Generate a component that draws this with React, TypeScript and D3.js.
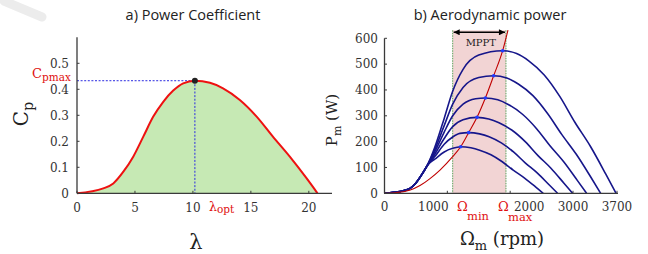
import React from 'react';
import * as d3 from 'd3';

// ---------- Panel a) Power coefficient ----------
const cpLambda = [0, 2.27, 3.13, 4.0, 4.85, 5.72, 6.58, 7.44, 8.3, 9.16, 10.17, 11.47, 12.6, 14.05, 15.5, 16.9, 18.36, 19.8, 20.75];
const cpValues = [0, 0.019, 0.038, 0.083, 0.141, 0.218, 0.295, 0.352, 0.395, 0.423, 0.433, 0.425, 0.404, 0.359, 0.295, 0.218, 0.141, 0.058, 0];
const cpTicks = [0, 0.1, 0.2, 0.3, 0.4, 0.5];
const cpTickLabels = ['0', '0.1', '0.2', '0.3', '0.4', '0.5'];
const lambdaTicks = [0, 5, 10, 15, 20];
const lambdaOpt = 10.17;
const cpMax = 0.433;

// ---------- Panel b) Aerodynamic power ----------
const omegaTicks = [0, 1000, 2000, 3000, 3700];
const omegaTickLabels = ['0', '1000', '2000', '3000', '3700'];
const powerTicks = [0, 100, 200, 300, 400, 500, 600];
const omegaMin = 1085;
const omegaMax = 1933;
const shadeTop = 631;

const mpptOmega = [0, 200, 400, 565, 724, 883, 1085, 1212, 1340, 1472, 1605, 1737, 1880, 1965];
const mpptPower = [0, 3, 12, 30, 57, 90, 142, 180, 235, 294, 369, 455, 552, 632];

const peakOmega = [1212, 1340, 1472, 1605, 1737, 1880];
const peakPower = [180, 235, 294, 369, 455, 552];

const windOmega1 = [0, 150, 300, 400, 500, 600, 700, 800, 950, 1085, 1212, 1374, 1514, 1694, 1874, 2048, 2229, 2408, 2526];
const windPower1 = [0, 4, 10, 18, 40, 75, 113, 132, 160, 174, 180, 176, 167, 149, 122, 90, 59, 24, 0];
const windOmega2 = [0, 150, 300, 400, 500, 600, 700, 800, 950, 1085, 1200, 1340, 1514, 1665, 1859, 2053, 2239, 2434, 2627, 2754];
const windPower2 = [0, 4, 10, 18, 40, 75, 114, 142, 190, 218, 232, 235, 230, 219, 195, 160, 118, 78, 31, 0];
const windOmega3 = [0, 150, 300, 400, 500, 600, 700, 800, 950, 1085, 1250, 1472, 1659, 1822, 2030, 2239, 2439, 2649, 2856, 2993];
const windPower3 = [0, 4, 10, 18, 40, 75, 115, 151, 212, 258, 285, 294, 288, 273, 244, 200, 147, 97, 39, 0];
const windOmega4 = [0, 150, 300, 400, 500, 600, 700, 800, 950, 1085, 1250, 1450, 1605, 1803, 1976, 2196, 2417, 2630, 2852, 3071, 3216];
const windPower4 = [0, 4, 10, 18, 40, 75, 116, 160, 237, 300, 345, 366, 369, 362, 343, 306, 251, 185, 122, 49, 0];
const windOmega5 = [0, 150, 300, 400, 500, 600, 700, 800, 950, 1085, 1250, 1500, 1737, 1946, 2129, 2362, 2595, 2820, 3055, 3287, 3440];
const windPower5 = [0, 4, 10, 18, 40, 75, 117, 169, 262, 345, 410, 448, 455, 446, 423, 378, 309, 228, 150, 61, 0];
const windOmega6 = [0, 150, 300, 400, 500, 600, 700, 800, 950, 1085, 1250, 1500, 1880, 2102, 2295, 2542, 2789, 3027, 3276, 3522, 3684];
const windPower6 = [0, 4, 10, 18, 40, 75, 118, 178, 290, 395, 480, 535, 552, 541, 513, 458, 375, 276, 182, 74, 0];

const windOmega = [windOmega1, windOmega2, windOmega3, windOmega4, windOmega5, windOmega6];
const windPower = [windPower1, windPower2, windPower3, windPower4, windPower5, windPower6];

const SERIF = '"DejaVu Serif", serif';
const SANS = '"Open Sans", sans-serif';
const AXIS = '#3a3a3a';

export default function App() {
  // scales panel a
  const xL = d3.scaleLinear().domain([0, 22]).range([77, 332]);
  const yL = d3.scaleLinear().domain([0, 0.6]).range([193.3, 37.3]);
  // scales panel b
  const xR = d3.scaleLinear().domain([0, 3700]).range([384.5, 617]);
  const yR = d3.scaleLinear().domain([0, 600]).range([193.3, 38.3]);

  const cpPts: [number, number][] = cpLambda.map((l, i) => [l, cpValues[i]]);
  const cpLine = d3.line<[number, number]>().x(d => xL(d[0])).y(d => yL(d[1])).curve(d3.curveMonotoneX);
  const cpArea = d3.area<[number, number]>().x(d => xL(d[0])).y0(yL(0)).y1(d => yL(d[1])).curve(d3.curveMonotoneX);

  const pLine = d3.line<[number, number]>().x(d => xR(d[0])).y(d => yR(d[1])).curve(d3.curveMonotoneX);
  const mpptPts: [number, number][] = mpptOmega.map((o, i) => [o, mpptPower[i]]);

  const omegaLabelShift: Record<number, number> = { 1000: -14, 2000: 19 };

  return (
    <svg width={648} height={254} style={{ position: 'absolute', left: 0, top: 0, display: 'block', background: '#fff' }}>
      <defs>
        <marker id="ah" viewBox="0 0 10 10" refX="10" refY="5" markerWidth="7" markerHeight="6" orient="auto-start-reverse" markerUnits="userSpaceOnUse">
          <path d="M0,0 L10,5 L0,10 z" fill="#000" />
        </marker>
      </defs>

      {/* faint watermark stroke */}
      <line x1={4} y1={1} x2={42} y2={17} stroke="#ececec" strokeWidth={9} strokeLinecap="round" />

      {/* ===== Panel a ===== */}
      <text x={193} y={20} textAnchor="middle" fontFamily={SANS} fontSize={14.5} fill="#222">a) Power Coefficient</text>
      <path d={cpArea(cpPts) || ''} fill="#c6e9b4" />
      <line x1={xL(0)} x2={xL(lambdaOpt)} y1={yL(cpMax)} y2={yL(cpMax)} stroke="#2a2ae0" strokeWidth={1} strokeDasharray="2,1.6" />
      <line x1={xL(lambdaOpt)} x2={xL(lambdaOpt)} y1={yL(cpMax)} y2={yL(0)} stroke="#2a2ae0" strokeWidth={1} strokeDasharray="2,1.6" />
      <path d={cpLine(cpPts) || ''} fill="none" stroke="#ee1111" strokeWidth={2} />
      <circle cx={xL(lambdaOpt)} cy={yL(cpMax)} r={3} fill="#222" />
      {/* axes */}
      <line x1={xL(0)} x2={xL(0)} y1={yL(0.6)} y2={yL(0)} stroke={AXIS} strokeWidth={1.3} />
      <line x1={xL(0)} x2={xL(22)} y1={yL(0)} y2={yL(0)} stroke={AXIS} strokeWidth={1.3} />
      {cpTicks.map((t, i) => (
        <g key={'cy' + i}>
          <line x1={xL(0)} x2={xL(0) + 2.5} y1={yL(t)} y2={yL(t)} stroke={AXIS} strokeWidth={1} />
          <text x={69} y={yL(t) + 4.3} textAnchor="end" fontFamily={SERIF} fontSize={12} fill="#333">{cpTickLabels[i]}</text>
        </g>
      ))}
      {lambdaTicks.map((t, i) => (
        <g key={'lx' + i}>
          <line x1={xL(t)} x2={xL(t)} y1={yL(0)} y2={yL(0) - 2.5} stroke={AXIS} strokeWidth={1} />
          <text x={xL(t)} y={212} textAnchor="middle" fontFamily={SERIF} fontSize={12} fill="#333">{String(t)}</text>
        </g>
      ))}
      <text x={209} y={211} fontFamily={SERIF} fontSize={12.5} fill="#e01010">λ<tspan fontSize={10.5} dy={2}>opt</tspan></text>
      <text x={32} y={78} fontFamily={SERIF} fontSize={13} fill="#e01010">C<tspan fontSize={10.5} dy={3}>pmax</tspan></text>
      <text transform="translate(28,114) rotate(-90)" textAnchor="middle" fontFamily={SERIF} fontSize={20} fill="#222">C<tspan fontSize={14} dy={5}>p</tspan></text>
      <text x={196} y={249} textAnchor="middle" fontFamily={SERIF} fontSize={21} fill="#222">λ</text>

      {/* ===== Panel b ===== */}
      <text x={490} y={20} textAnchor="middle" fontFamily={SANS} fontSize={14.5} fill="#222">b) Aerodynamic power</text>
      <rect x={xR(omegaMin)} y={yR(shadeTop)} width={xR(omegaMax) - xR(omegaMin)} height={yR(0) - yR(shadeTop)} fill="#f2d4d4" />
      <line x1={xR(omegaMin)} x2={xR(omegaMin)} y1={yR(shadeTop)} y2={yR(0)} stroke="#5aa05a" strokeWidth={1} strokeDasharray="1.5,1" />
      <line x1={xR(omegaMax)} x2={xR(omegaMax)} y1={yR(shadeTop)} y2={yR(0)} stroke="#5aa05a" strokeWidth={1} strokeDasharray="1.5,1" />
      {windOmega.map((om, k) => (
        <path key={'w' + k} d={pLine(om.map((o, i) => [o, windPower[k][i]] as [number, number])) || ''} fill="none" stroke="#16168a" strokeWidth={1.6} />
      ))}
      <path d={pLine(mpptPts) || ''} fill="none" stroke="#c00000" strokeWidth={1.1} />
      {peakOmega.map((o, i) => (
        <circle key={'pk' + i} cx={xR(o)} cy={yR(peakPower[i])} r={1.8} fill="#1f3cff" />
      ))}
      <line x1={xR(omegaMin) + 1} x2={xR(omegaMax) - 1} y1={32.3} y2={32.3} stroke="#000" strokeWidth={1.5} markerStart="url(#ah)" markerEnd="url(#ah)" />
      <text x={(xR(omegaMin) + xR(omegaMax)) / 2 + 1.5} y={46} textAnchor="middle" fontFamily={SERIF} fontSize={10} fill="#222">MPPT</text>
      {/* axes */}
      <line x1={xR(0)} x2={xR(0)} y1={yR(600)} y2={yR(0)} stroke={AXIS} strokeWidth={1.3} />
      <line x1={xR(0)} x2={xR(3700) + 1} y1={yR(0)} y2={yR(0)} stroke={AXIS} strokeWidth={1.3} />
      {powerTicks.map((t, i) => (
        <g key={'py' + i}>
          <line x1={xR(0)} x2={xR(0) + 2.5} y1={yR(t)} y2={yR(t)} stroke={AXIS} strokeWidth={1} />
          <text x={378} y={yR(t) + 4.3} textAnchor="end" fontFamily={SERIF} fontSize={12} fill="#333">{String(t)}</text>
        </g>
      ))}
      {omegaTicks.map((t, i) => (
        <g key={'ox' + i}>
          <line x1={xR(t)} x2={xR(t)} y1={yR(0)} y2={yR(0) - 2.5} stroke={AXIS} strokeWidth={1} />
          <text x={xR(t) + (omegaLabelShift[t] || 0)} y={211} textAnchor="middle" fontFamily={SERIF} fontSize={12} fill="#333">{omegaTickLabels[i]}</text>
        </g>
      ))}
      <text x={457} y={211} fontFamily={SERIF} fontSize={13} fill="#e01010">Ω</text>
      <text x={467} y={220} fontFamily={SERIF} fontSize={11.5} fill="#e01010">min</text>
      <text x={498} y={211} fontFamily={SERIF} fontSize={13} fill="#e01010">Ω</text>
      <text x={508} y={221} fontFamily={SERIF} fontSize={11.5} fill="#e01010">max</text>
      <text transform="translate(337,120) rotate(-90)" textAnchor="middle" fontFamily={SERIF} fontSize={15} fill="#222">P<tspan fontSize={11} dy={4}>m</tspan><tspan dy={-4}> (W)</tspan></text>
      <text x={502} y={245} textAnchor="middle" fontFamily={SERIF} fontSize={18} fill="#222">Ω<tspan fontSize={13} dy={5}>m</tspan><tspan dy={-5}> (rpm)</tspan></text>
    </svg>
  );
}
